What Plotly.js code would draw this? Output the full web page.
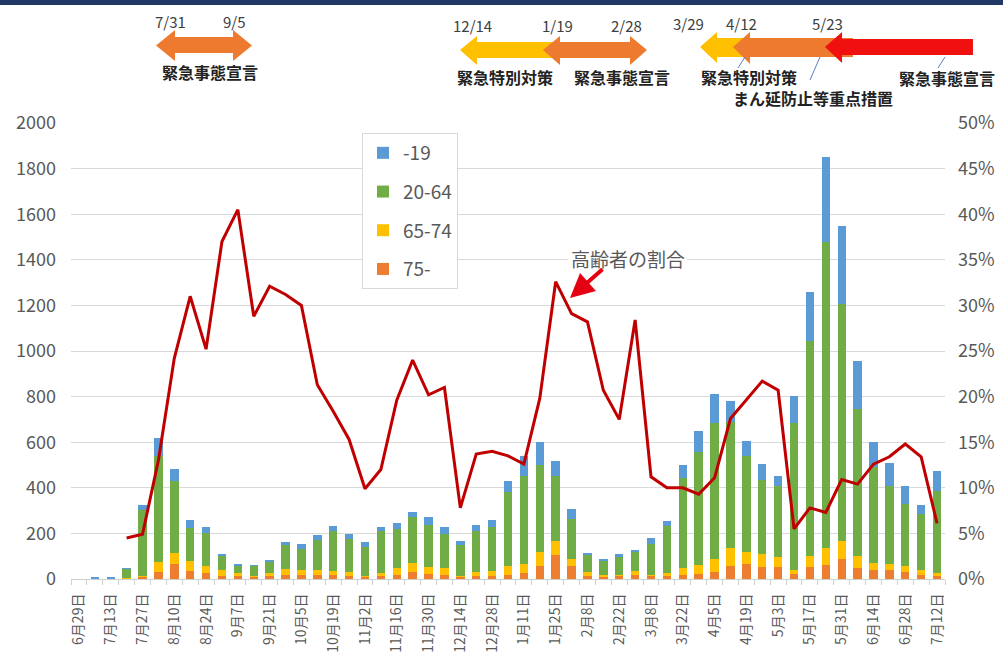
<!DOCTYPE html>
<html>
<head>
<meta charset="utf-8">
<script src="https://cdn.plot.ly/plotly-3.0.1.min.js"></script>
<style>
html,body{margin:0;padding:0;background:#fff;}
#chart{width:1003px;height:657px;}
</style>
</head>
<body>
<div id="chart"></div>
<script>
// ---- data ----
const weeks = ["6月29日","7月6日","7月13日","7月20日","7月27日","8月3日","8月10日","8月17日","8月24日","8月31日",
  "9月7日","9月14日","9月21日","9月28日","10月5日","10月12日","10月19日","10月26日","11月2日","11月9日",
  "11月16日","11月23日","11月30日","12月7日","12月14日","12月21日","12月28日","1月4日","1月11日","1月18日",
  "1月25日","2月1日","2月8日","2月15日","2月22日","3月1日","3月8日","3月15日","3月22日","3月29日",
  "4月5日","4月12日","4月19日","4月26日","5月3日","5月10日","5月17日","5月24日","5月31日","6月7日",
  "6月14日","6月21日","6月28日","7月5日","7月12日"];

const age75 = [0,0,0,1,7,29,67,34,26,15, 12,9,12,19,19,19,16,12,9,15, 19,29,22,19,9,15,15,19,26,58,
  104,58,15,9,12,19,12,12,19,22, 29,58,66,51,51,22,51,60,88,48, 38,41,31,16,12];
const age65_74 = [0,0,0,2,8,45,47,43,32,23, 14,6,14,25,22,19,20,17,6,11, 29,41,29,29,6,14,19,36,41,59,
  64,30,14,10,7,15,7,14,29,41, 59,78,52,58,44,19,48,76,80,51, 32,25,24,25,14];
const age20_64 = [0,1,1,39,289,466,317,146,143,64, 29,43,47,103,92,134,176,148,125,183, 171,204,187,151,132,180,192,325,386,381,
  285,175,78,58,76,84,134,208,397,493, 595,554,422,326,311,645,945,1343,1038,646, 423,344,273,244,358];
const age19 = [0,6,6,6,21,80,51,37,27,9, 11,2,10,15,20,22,19,22,22,19, 26,22,32,29,18,26,34,48,87,102,
  65,44,7,11,16,10,27,21,56,95, 127,92,66,69,44,117,216,372,341,211, 106,98,82,40,88];
const elderlyRatio = [null,null,null,0.045,0.049,0.130,0.242,0.310,0.252,0.370,
  0.405,0.288,0.321,0.312,0.300,0.213,0.184,0.153,0.099,0.120,
  0.196,0.240,0.202,0.210,0.078,0.137,0.140,0.135,0.126,0.198,
  0.326,0.291,0.282,0.207,0.175,0.284,0.112,0.100,0.100,0.093,
  0.111,0.176,0.196,0.217,0.207,0.055,0.078,0.073,0.109,0.104,
  0.126,0.134,0.148,0.134,0.061];

const tickLabels = weeks.filter((w,i)=>i%2===0);

const seriesNames = ["75-","65-74","20-64","-19"];
const seriesColors = ["#ED7D31","#FFC000","#70AD47","#5B9BD5"];
const seriesValues = [age75, age65_74, age20_64, age19];

// ---- geometry helpers (pixel -> paper) ----
const L = 71, R = 945, T = 123, B = 579;
const W = R - L, H = B - T;
const px = x => (x - L) / W;
const py = y => (B - y) / H;
function path(pts){ return 'M ' + pts.map(p => px(p[0]).toFixed(4)+','+py(p[1]).toFixed(4)).join(' L ') + ' Z'; }

const FONT = '"Noto Sans CJK JP", "Noto Sans", sans-serif';

const traces = seriesValues.map((vals, k) => ({
  type: 'bar', x: weeks, y: vals, name: seriesNames[k],
  marker: {color: seriesColors[k]}, legendgroup: 'g'+k, legendrank: 4 - k,
  hoverinfo: 'x+y+name'
}));
traces.push({
  type: 'scatter', mode: 'lines', x: weeks, y: elderlyRatio, yaxis: 'y2',
  line: {color: '#C00000', width: 3}, showlegend: false, connectgaps: false, name: '高齢者の割合'
});
traces.push({type:'scatter', x: [], y: [], xaxis: 'x2', showlegend: false, hoverinfo:'skip'});

const shapes = [
  // top band
  {type:'rect', xref:'paper', yref:'paper', x0:px(0), x1:px(1003), y0:py(5), y1:py(0), fillcolor:'#203864', line:{width:0}},
  // group 1 double arrow
  {type:'path', xref:'paper', yref:'paper', path: path([[156,45.5],[175,30],[175,37],[233,37],[233,30],[252,45.5],[233,61],[233,53],[175,53],[175,61]]), fillcolor:'#EE7A30', line:{width:0}},
  // group 2 yellow left arrow
  {type:'path', xref:'paper', yref:'paper', path: path([[460,50],[477,36],[477,42],[557,42],[557,58],[477,58],[477,65]]), fillcolor:'#FFC000', line:{width:0}},
  // group 2 orange double arrow
  {type:'path', xref:'paper', yref:'paper', path: path([[543,50],[560,36],[560,42],[630,42],[630,36],[647,50],[630,65],[630,58],[560,58],[560,65]]), fillcolor:'#EE7A30', line:{width:0}},
  // group 3 yellow
  {type:'path', xref:'paper', yref:'paper', path: path([[700,47],[717,32],[717,38],[800,38],[800,57],[717,57],[717,63]]), fillcolor:'#FFC000', line:{width:0}},
  // group 3 orange
  {type:'path', xref:'paper', yref:'paper', path: path([[733,47],[750,32],[750,38],[853,38],[853,57],[750,57],[750,64]]), fillcolor:'#EE7A30', line:{width:0}},
  // group 3 red
  {type:'path', xref:'paper', yref:'paper', path: path([[825,47],[842,32],[842,39],[973,39],[973,55],[842,55],[842,63]]), fillcolor:'#F01010', line:{width:0}},
  // thin callout lines
  {type:'line', xref:'paper', yref:'paper', x0:px(738), y0:py(68), x1:px(745), y1:py(57), line:{color:'#5B7FC4', width:1}},
  {type:'line', xref:'paper', yref:'paper', x0:px(810), y0:py(80), x1:px(820), y1:py(57), line:{color:'#5B7FC4', width:1}},
  {type:'line', xref:'paper', yref:'paper', x0:px(938), y0:py(68), x1:px(945), y1:py(57), line:{color:'#5B7FC4', width:1}}
];

function txt(t, x, y, size, bold, color){
  return {text: bold ? '<b>'+t+'</b>' : t, xref:'paper', yref:'paper', x:px(x), y:py(y), xanchor:'center', yanchor:'middle',
    showarrow:false, font:{family:FONT, size:size, color:color || '#404040'}};
}
const annotations = [
  txt('7/31',170,22,15), txt('9/5',234,22,15), txt('緊急事態宣言',210,72,16,true,'#222'),
  txt('12/14',472,25,15), txt('1/19',557,25,15), txt('2/28',626,25,15),
  txt('緊急特別対策',505,77,16,true,'#222'), txt('緊急事態宣言',622,77,16,true,'#222'),
  txt('3/29',688,23,15), txt('4/12',741,23,15), txt('5/23',827,23,15),
  txt('緊急特別対策',749,77,16,true,'#222'), txt('まん延防止等重点措置',813,98,16,true,'#222'),
  txt('緊急事態宣言',947,78,16,true,'#222'),
  {text:'高齢者の割合', xref:'paper', yref:'paper', x:px(628), y:py(258), xanchor:'center', yanchor:'middle',
    showarrow:false, bgcolor:'#ffffff', borderpad:2, font:{family:FONT, size:19, color:'#595959'}},
  {text:'', xref:'paper', yref:'paper', x:px(570), y:py(298), ax:34, ay:-30, showarrow:true,
    arrowhead:2, arrowsize:1.2, arrowwidth:4, arrowcolor:'#E50012', standoff:0}
];

const layout = {
  width: 1003, height: 657,
  margin: {l: L, r: 1003 - R, t: T, b: 657 - B, pad: 0},
  paper_bgcolor: '#ffffff', plot_bgcolor: '#ffffff',
  font: {family: FONT, color: '#595959'},
  barmode: 'stack', bargap: 0.47,
  showlegend: true,
  legend: {x: px(362), y: py(133), xanchor: 'left', yanchor: 'top', traceorder: 'grouped',
    tracegroupgap: 11, bgcolor: '#ffffff', bordercolor: '#d9d9d9', borderwidth: 1,
    font: {family: FONT, size: 19, color: '#595959'}, itemwidth: 30},
  xaxis: {type: 'category', categoryorder: 'array', categoryarray: weeks, range: [-0.5, weeks.length - 0.5],
    tickmode: 'array', tickvals: tickLabels, ticktext: tickLabels, tickangle: -90,
    ticks: '', showline: true, linecolor: '#d0d0d0', linewidth: 1, showgrid: false,
    ticklabelstandoff: 8, tickfont: {family: FONT, size: 14, color: '#595959'}},
  xaxis2: {overlaying: 'x', anchor: 'y', side: 'bottom', range: [-0.5, weeks.length - 0.5],
    tickmode: 'linear', tick0: -0.5, dtick: 1, ticks: 'outside', ticklen: 5, tickcolor: '#d0d0d0',
    showticklabels: false, showgrid: false, zeroline: false, showline: false, fixedrange: true},
  yaxis: {range: [0, 2000], dtick: 200, tick0: 0, showgrid: true, gridcolor: '#d9d9d9', gridwidth: 1,
    zeroline: false, showline: false, ticks: '', ticklabelstandoff: 14,
    tickfont: {family: FONT, size: 18, color: '#595959'}},
  yaxis2: {overlaying: 'y', side: 'right', range: [0, 0.5], dtick: 0.05, tick0: 0, tickformat: '.0%',
    showgrid: false, zeroline: false, showline: false, ticks: '', ticklabelstandoff: 12,
    tickfont: {family: FONT, size: 18, color: '#595959'}},
  shapes: shapes,
  annotations: annotations
};

Plotly.newPlot('chart', traces, layout, {displayModeBar: false, staticPlot: true});
</script>
</body>
</html>
